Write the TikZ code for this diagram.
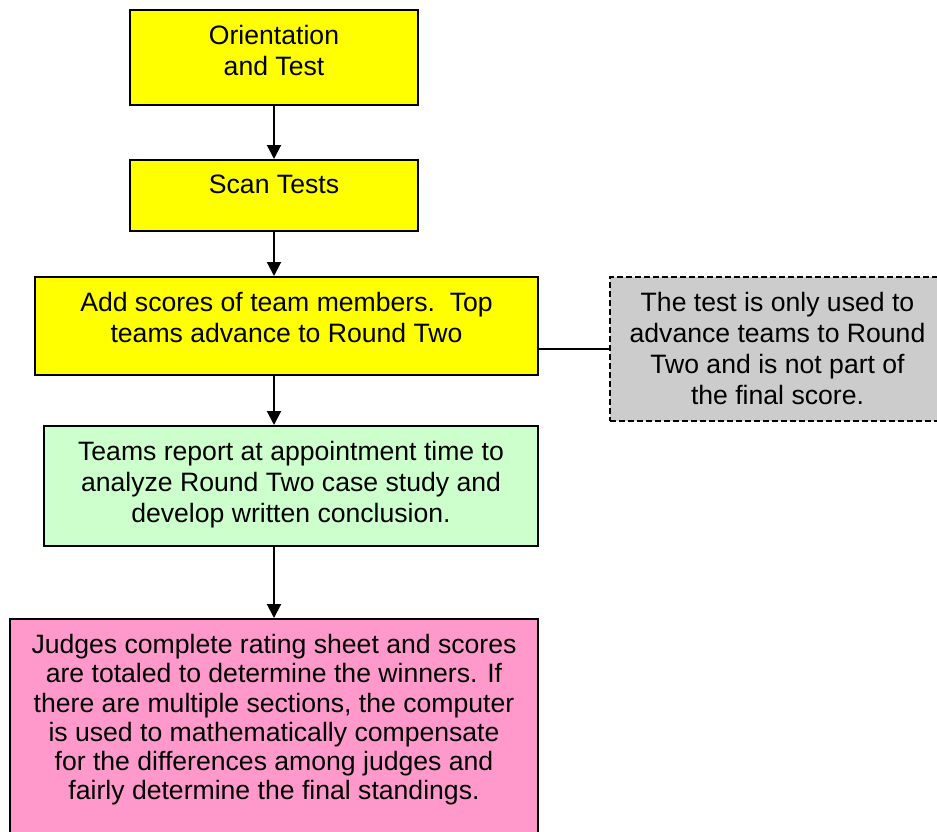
\documentclass[tikz,border=0pt]{standalone}
\usepackage{fontspec}
\setmainfont{Liberation Sans}
\usetikzlibrary{arrows.meta,positioning}
\definecolor{stepyellow}{RGB}{255,255,0}
\definecolor{stepgreen}{RGB}{204,255,204}
\definecolor{steppink}{RGB}{255,153,204}
\definecolor{notegray}{RGB}{204,204,204}

\begin{document}
\begin{tikzpicture}
		[x=0.5pt, y=-0.5pt, inner sep=0pt,
		font=\fontsize{13.3}{15.5}\selectfont,
		stepbox/.style	= {draw, rectangle, line width=1pt, black},
		boxtext/.style	= {anchor=north, align=center, inner sep=0pt, yshift=-8pt, font=\fontsize{13.3}{15.5}\selectfont},
		flow/.style		= {line width=1pt, -{Triangle[length=7pt,width=7pt]}}]
		
		\useasboundingbox (0,0) rectangle (937,831);
		
		\node [stepbox, fill=stepyellow, minimum width=144pt, minimum height=47.5pt]	at (274,57.5)	(orient)
			[label={[boxtext]north:Orientation\\and Test}] {};
		\node [stepbox, fill=stepyellow, minimum width=144pt, minimum height=35.5pt]	at (274,195.5)	(scan)
			[label={[boxtext]north:Scan Tests}] {};
		\node [stepbox, fill=stepyellow, minimum width=251.5pt, minimum height=49pt]	at (286.5,326)	(add)
			[label={[boxtext]north:Add scores of team members.\ \ Top\\teams advance to Round Two}] {};
		\node [stepbox, fill=stepgreen, minimum width=247pt, minimum height=60pt]	at (291,486)	(report)
			[label={[boxtext]north:Teams report at appointment time to\\analyze Round Two case study and\\develop written conclusion.}] {};
		\node [stepbox, fill=steppink, minimum width=264pt, minimum height=110.5pt]	at (274,729.5)	(judges)
			[label={[boxtext, font=\fontsize{13.3}{14.6}\selectfont]north:Judges complete rating sheet and scores\\are totaled to determine the winners. If\\there are multiple sections, the computer\\is used to mathematically compensate\\for the differences among judges and\\fairly determine the final standings.}] {};
		
		\node [stepbox, dash pattern=on 3pt off 1.5pt, fill=notegray, minimum width=167.5pt, minimum height=72pt]	at (777.5,349)	(note)
			[label={[boxtext]north:The test is only used to\\advance teams to Round\\Two and is not part of\\the final score.}] {};
		
		\draw [flow] (orient)	-- (scan);
		\draw [flow] (scan)		-- (scan |- add.north);
		\draw [flow] (add.south -| scan)	-- (scan |- report.north);
		\draw [flow] (report.south -| scan)	-- (judges);
		\draw [line width=1pt] (note.west) -- (note.west -| add.east);
		\end{tikzpicture}
\end{document}
